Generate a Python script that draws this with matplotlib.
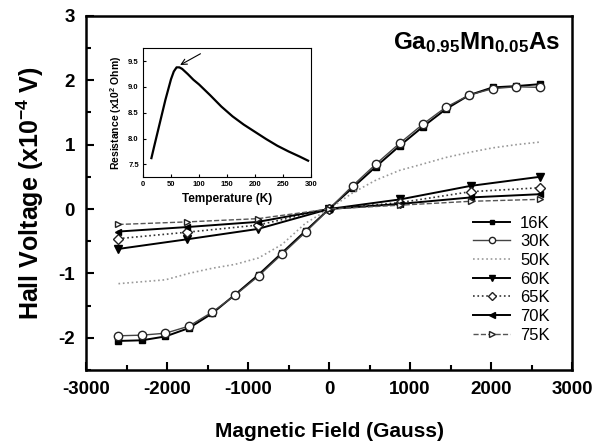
import numpy as np
from matplotlib import pyplot as plt

plt.rcParams['font.family'] = 'Liberation Sans'
plt.rcParams['font.weight'] = 'bold'
plt.rcParams['axes.labelweight'] = 'bold'
plt.rcParams['axes.unicode_minus'] = False
plt.rcParams['mathtext.fontset'] = 'custom'
plt.rcParams['mathtext.rm'] = 'Liberation Sans:bold'
plt.rcParams['mathtext.it'] = 'Liberation Sans:bold'
plt.rcParams['mathtext.bf'] = 'Liberation Sans:bold'
plt.rcParams['mathtext.default'] = 'rm'

# Hall data (field in Gauss, voltage in 1e-4 V)
field_dense = [-2600, -2310, -2020, -1730, -1440, -1160, -870, -580, -290, 0,
               290, 580, 870, 1160, 1440, 1730, 2020, 2310, 2600]
v_16k = [-2.05, -2.04, -1.98, -1.85, -1.62, -1.33, -1.02, -0.68, -0.34, 0.0,
         0.33, 0.66, 0.98, 1.28, 1.55, 1.77, 1.89, 1.91, 1.94]
v_30k = [-1.97, -1.96, -1.93, -1.82, -1.60, -1.34, -1.04, -0.70, -0.36, 0.0,
         0.36, 0.70, 1.02, 1.32, 1.58, 1.77, 1.87, 1.90, 1.89]
v_50k = [-1.16, -1.13, -1.10, -1.00, -0.92, -0.86, -0.76, -0.55, -0.22, 0.0,
         0.25, 0.45, 0.60, 0.70, 0.80, 0.88, 0.95, 1.00, 1.04]

field_sparse = [-2600, -1750, -880, 0, 880, 1750, 2600]
v_60k = [-0.62, -0.47, -0.31, 0.0, 0.15, 0.36, 0.50]
v_65k = [-0.46, -0.36, -0.25, 0.0, 0.10, 0.27, 0.33]
v_70k = [-0.35, -0.28, -0.20, 0.0, 0.08, 0.18, 0.23]
v_75k = [-0.24, -0.20, -0.15, 0.0, 0.06, 0.12, 0.15]

# inset: resistance vs temperature
temp = [15, 20, 30, 40, 50, 55, 60, 65, 70, 80, 90, 100, 120, 140, 160,
        180, 200, 220, 240, 260, 280, 295]
resist = [7.62, 7.85, 8.30, 8.75, 9.15, 9.30, 9.38, 9.38, 9.35, 9.25, 9.14,
          9.05, 8.84, 8.62, 8.43, 8.27, 8.13, 7.99, 7.86, 7.75, 7.65, 7.57]

fig = plt.figure(figsize=(6.06, 4.43), dpi=100)
ax = fig.add_axes([0.142, 0.165, 0.802, 0.799])

ax.plot(field_dense, v_16k, 'k-s', ms=4.5, lw=1.4, label='16K')
ax.plot(field_dense, v_30k, '-o', color='#444444', mfc='white', mec='#222222',
        ms=6, lw=1.0, label='30K')
ax.plot(field_dense, v_50k, ':', color='#999999', lw=1.2, label='50K')
ax.plot(field_sparse, v_60k, 'k-v', ms=6, lw=1.4, label='60K')
ax.plot(field_sparse, v_65k, ':D', color='#333333', mfc='white', mec='#222222',
        ms=5, lw=1.2, label='65K')
ax.plot(field_sparse, v_70k, 'k-<', ms=5, lw=1.4, label='70K')
ax.plot(field_sparse, v_75k, '-->', color='#555555', mfc='white', mec='#222222',
        ms=5, lw=1.0, label='75K')

ax.set_xlim(-3000, 3000)
ax.set_ylim(-2.5, 3)
ax.set_xticks([-3000, -2000, -1000, 0, 1000, 2000, 3000])
ax.set_xticks(np.arange(-2500, 3000, 1000), minor=True)
ax.set_yticks([-2, -1, 0, 1, 2, 3])
ax.set_yticks([-2.5, -1.5, -0.5, 0.5, 1.5, 2.5], minor=True)
ax.tick_params(which='both', direction='in', width=1.5, labelsize=13.5)
ax.tick_params(which='major', length=6, pad=8)
ax.tick_params(which='minor', length=3.5)
ax.tick_params(top=False, right=False)
for lab in ax.get_xticklabels() + ax.get_yticklabels():
    lab.set_fontweight('bold')
for s in ax.spines.values():
    s.set_linewidth(1.8)

ax.set_xlabel('Magnetic Field (Gauss)', fontsize=15, fontweight='bold',
              labelpad=17)
ax.set_ylabel('Hall Voltage (x10$^{-4}$ V)', fontsize=18, fontweight='bold',
              labelpad=9)

ax.text(0.975, 0.905, r'Ga$_{0.95}$Mn$_{0.05}$As', transform=ax.transAxes,
        ha='right', va='baseline', fontsize=17.5)

leg = ax.legend(loc='lower right', bbox_to_anchor=(0.985, 0.035), frameon=False,
                fontsize=12, handlelength=2.2, labelspacing=0.22,
                handletextpad=0.6, markerscale=0.75)
for t in leg.get_texts():
    t.set_fontweight('normal')

# inset
ins = fig.add_axes([0.236, 0.600, 0.277, 0.291])
ins.plot(temp, resist, 'k-', lw=1.6)
ins.set_xlim(0, 300)
ins.set_ylim(7.25, 9.75)
ins.set_xticks([0, 50, 100, 150, 200, 250, 300])
ins.set_yticks([7.5, 8.0, 8.5, 9.0, 9.5])
ins.set_yticklabels(['7.5', '8.0', '8.5', '9.0', '9.5'])
ins.tick_params(direction='in', labelsize=5.5, length=2.5, width=0.8, pad=3)
for lab in ins.get_xticklabels() + ins.get_yticklabels():
    lab.set_fontweight('bold')
for s in ins.spines.values():
    s.set_linewidth(0.8)
ins.set_xlabel('Temperature (K)', fontsize=8.5, fontweight='bold', labelpad=3)
ins.set_ylabel('Resistance (x10$^2$ Ohm)', fontsize=7.5, fontweight='bold',
               labelpad=3)
ins.annotate('', xy=(62, 9.40), xytext=(107, 9.67),
             arrowprops=dict(arrowstyle='->', lw=0.8, color='black'))

fig.savefig('out.png', dpi=100)
